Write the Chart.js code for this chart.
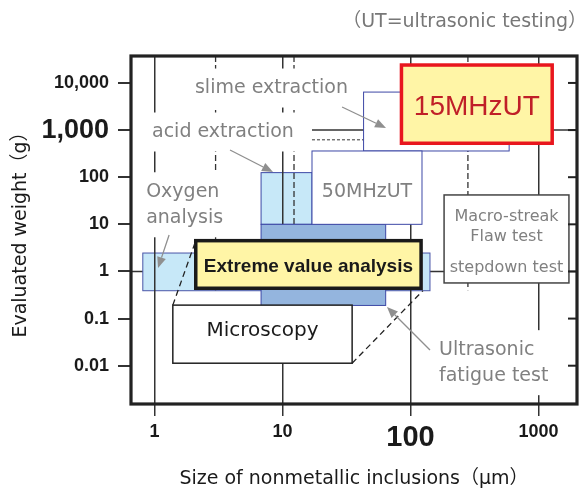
<!DOCTYPE html>
<html>
<head>
<meta charset="utf-8">
<script src="https://cdn.jsdelivr.net/npm/chart.js@4.4.1/dist/chart.umd.min.js"></script>
<style>
  html, body { margin: 0; padding: 0; background: #fff; }
</style>
</head>
<body>
<canvas id="methodchart" width="581" height="490"></canvas>
<script>
"use strict";

///////////////// AXES //////////////////////////////
const sizeTicks = [1, 10, 100, 1000];
const sizeTickLabels = ['1', '10', '100', '1000'];
const weightTicks = [0.01, 0.1, 1, 10, 100, 1000, 10000];
const weightTickLabels = ['0.01', '0.1', '1', '10', '100', '1,000', '10,000'];

///////////////// INSPECTION METHODS ////////////////
// inclusion size range (µm) and evaluated weight range (g) covered by each method
const methodNames = ['Oxygen analysis', 'acid extraction', 'Ultrasonic fatigue test',
                     'Extreme value analysis', 'Microscopy', '50MHzUT',
                     'slime extraction', '15MHzUT', 'Macro-streak Flaw test'];
const sizeFrom   = [0.81, 6.8, 6.8, 2.1, 1.39, 17, 43, 85, 183];
const sizeTo     = [142, 17, 64, 121, 35, 123, 590, 1280, 1730];
const weightFrom = [0.39, 10, 0.19, 0.44, 0.0113, 10, 360, 525, 0.57];
const weightTo   = [2.46, 125, 10, 4.5, 0.193, 360, 6400, 24000, 42];

// guide lines behind the boxes
const guideSizes = [3, 12.3, 281];        // dashed verticals, down to 0.4 g
const guideWeights = [1, 1000];           // solid horizontals
const guideWeightStart = [0.655, 17];     // µm where each one starts
const guideDashedWeight = [621];          // short dashed horizontal, 17-43 µm

///////////////// STYLES ////////////////////////////
const wide = '"DejaVu Sans", "Noto Sans CJK JP", sans-serif';
const arial = '"Liberation Sans", Arial, sans-serif';
const navy = '#3d48a6';
const grey = '#808080';
const ink = '#1a1a1a';

const boxStyles = {
  'Oxygen analysis':         {fill: '#c7e8f8', stroke: '#4a55a8', width: 1, under: true},
  'acid extraction':         {fill: '#c7e8f8', stroke: navy, width: 1, under: true},
  'Ultrasonic fatigue test': {fill: '#94b5de', stroke: navy, width: 1},
  'slime extraction':        {fill: '#ffffff', stroke: navy, width: 1},
  '50MHzUT':                 {fill: '#ffffff', stroke: navy, width: 1,
                              text: ['50MHzUT'], font: '19px ' + wide, color: grey, dy: [4]},
  '15MHzUT':                 {fill: '#fff5a6', stroke: '#e8161e', width: 3.5,
                              text: ['15MHzUT'], font: '28px ' + arial, color: '#c01f28', dy: [3]},
  'Extreme value analysis':  {fill: '#fff5a6', stroke: ink, width: 3.5,
                              text: ['Extreme value analysis'], font: 'bold 19px ' + arial, color: ink, dy: [2]},
  'Microscopy':              {fill: '#ffffff', stroke: '#222', width: 1.5,
                              text: ['Microscopy'], font: '20px ' + wide, color: ink, dy: [-3]},
  'Macro-streak Flaw test':  {fill: '#ffffff', stroke: '#444', width: 1.5,
                              text: ['Macro-streak', 'Flaw test', 'stepdown test'],
                              font: '16px ' + wide, color: grey, dy: [-22, -2, 29]},
};
const drawOrder = ['Ultrasonic fatigue test', 'slime extraction', '50MHzUT', '15MHzUT',
                   'Extreme value analysis', 'Microscopy', 'Macro-streak Flaw test'];

// free labels, anchored at their left edge / vertical middle (µm, g)
const notes = [
  {lines: ['slime extraction'], at: [2.07, 7800]},
  {lines: ['acid extraction'], at: [0.956, 910]},
  {lines: ['Oxygen', 'analysis'], at: [0.86, 26]},
  {lines: ['Ultrasonic', 'fatigue test'], at: [167, 0.0116]},
];
// grey arrows from the labels to their boxes
const pointers = [
  {from: [29.2, 3090], to: [64.4, 1107]},
  {from: [3.89, 378], to: [8.43, 129]},
  {from: [1.30, 5.93], to: [1.065, 1.18]},
  {from: [142, 0.0215], to: [65.5, 0.176]},
];
// dashed links from microscopy to the extreme value box
const links = [
  {from: [1.39, 0.193], to: [2.1, 4.5]},
  {from: [35, 0.0113], to: [125, 0.39]},
];

///////////////// DRAWING HELPERS ///////////////////
function toPx(chart, pt) {
  return [chart.scales.x.getPixelForValue(pt[0]), chart.scales.y.getPixelForValue(pt[1])];
}

function drawBox(chart, name) {
  const i = methodNames.indexOf(name);
  const st = boxStyles[name];
  const ctx = chart.ctx;
  const [l, t] = toPx(chart, [sizeFrom[i], weightTo[i]]);
  const [r, b] = toPx(chart, [sizeTo[i], weightFrom[i]]);
  ctx.save();
  ctx.fillStyle = st.fill;
  ctx.fillRect(l, t, r - l, b - t);
  ctx.lineWidth = st.width;
  ctx.strokeStyle = st.stroke;
  ctx.strokeRect(l, t, r - l, b - t);
  if (st.text) {
    ctx.font = st.font;
    ctx.fillStyle = st.color;
    ctx.textAlign = 'center';
    ctx.textBaseline = 'middle';
    st.text.forEach((line, k) => {
      ctx.fillText(line, (l + r) / 2, (t + b) / 2 + (st.dy[k] || 0));
    });
  }
  ctx.restore();
}

function drawArrow(ctx, p0, p1) {
  const ang = Math.atan2(p1[1] - p0[1], p1[0] - p0[0]);
  const len = 11, half = 4.5;
  const bx = p1[0] - len * Math.cos(ang), by = p1[1] - len * Math.sin(ang);
  ctx.beginPath();
  ctx.moveTo(p0[0], p0[1]);
  ctx.lineTo(bx, by);
  ctx.stroke();
  ctx.beginPath();
  ctx.moveTo(p1[0], p1[1]);
  ctx.lineTo(bx + half * Math.sin(ang), by - half * Math.cos(ang));
  ctx.lineTo(bx - half * Math.sin(ang), by + half * Math.cos(ang));
  ctx.closePath();
  ctx.fill();
}

const noteFont = '19px ' + wide;
const noteLineGap = 26;

const methodMap = {
  id: 'methodMap',
  // horizontal guides and the pale boxes sit under the vertical grid
  beforeDraw(chart) {
    const ctx = chart.ctx;
    const {left, right, top, bottom} = chart.chartArea;
    const {x, y} = chart.scales;
    ctx.save();
    ctx.beginPath();
    ctx.rect(left, top, right - left, bottom - top);
    ctx.clip();
    ctx.strokeStyle = '#333';
    ctx.lineWidth = 1.5;
    guideWeights.forEach((w, k) => {
      const py = y.getPixelForValue(w);
      ctx.beginPath();
      ctx.moveTo(x.getPixelForValue(guideWeightStart[k]), py);
      ctx.lineTo(right, py);
      ctx.stroke();
    });
    ctx.lineWidth = 1;
    ctx.setLineDash([3, 2]);
    guideDashedWeight.forEach(w => {
      const py = y.getPixelForValue(w);
      ctx.beginPath();
      ctx.moveTo(x.getPixelForValue(17), py);
      ctx.lineTo(x.getPixelForValue(43), py);
      ctx.stroke();
    });
    ctx.restore();
    methodNames.filter(n => boxStyles[n].under).forEach(n => drawBox(chart, n));
  },
  beforeDatasetsDraw(chart) {
    const ctx = chart.ctx;
    const {top} = chart.chartArea;
    const {x, y} = chart.scales;
    ctx.save();
    ctx.strokeStyle = '#333';
    ctx.lineWidth = 1.3;
    ctx.setLineDash([6, 3]);
    guideSizes.forEach(s => {
      const px = x.getPixelForValue(s);
      ctx.beginPath(); ctx.moveTo(px, top); ctx.lineTo(px, y.getPixelForValue(0.4)); ctx.stroke();
    });
    ctx.restore();
  },
  afterDatasetsDraw(chart) {
    const ctx = chart.ctx;
    // white backing behind the free labels
    ctx.save();
    ctx.font = noteFont;
    notes.forEach(n => {
      const [px, py] = toPx(chart, n.at);
      const w = Math.max(...n.lines.map(s => ctx.measureText(s).width));
      const h = (n.lines.length - 1) * noteLineGap + 19;
      ctx.fillStyle = '#fff';
      ctx.fillRect(px - 10, py - h / 2 - 10, w + 20, h + 20);
    });
    ctx.restore();

    drawOrder.forEach(n => drawBox(chart, n));

    ctx.save();
    ctx.strokeStyle = '#222';
    ctx.lineWidth = 1.3;
    ctx.setLineDash([6, 4]);
    links.forEach(k => {
      const a = toPx(chart, k.from), b = toPx(chart, k.to);
      ctx.beginPath(); ctx.moveTo(a[0], a[1]); ctx.lineTo(b[0], b[1]); ctx.stroke();
    });
    ctx.setLineDash([]);
    ctx.strokeStyle = '#8f8f8f';
    ctx.fillStyle = '#8f8f8f';
    ctx.lineWidth = 1.3;
    pointers.forEach(p => drawArrow(ctx, toPx(chart, p.from), toPx(chart, p.to)));

    ctx.font = noteFont;
    ctx.fillStyle = grey;
    ctx.textAlign = 'left';
    ctx.textBaseline = 'middle';
    notes.forEach(n => {
      const [px, py] = toPx(chart, n.at);
      const y0 = py - (n.lines.length - 1) * noteLineGap / 2;
      n.lines.forEach((s, k) => ctx.fillText(s, px, y0 + k * noteLineGap));
    });
    ctx.restore();
  },
  afterDraw(chart) {
    const ctx = chart.ctx;
    const {left, right, top, bottom} = chart.chartArea;
    const y = chart.scales.y;
    ctx.save();
    // ticks on the inside of the right frame
    ctx.strokeStyle = '#222';
    ctx.lineWidth = 2;
    weightTicks.forEach(w => {
      const py = y.getPixelForValue(w);
      ctx.beginPath(); ctx.moveTo(right - 9, py); ctx.lineTo(right, py); ctx.stroke();
    });
    ctx.lineWidth = 3.2;
    ctx.strokeRect(left, top, right - left, bottom - top);

    ctx.font = '19px ' + wide;
    ctx.fillStyle = '#777';
    ctx.textAlign = 'right';
    ctx.textBaseline = 'middle';
    ctx.fillText('（UT=ultrasonic testing）', 587, 22);
    ctx.restore();
  }
};

///////////////// CHART //////////////////////////////
new Chart(document.querySelector('#methodchart'), {
  type: 'scatter',
  data: { datasets: [] },
  plugins: [methodMap],
  options: {
    responsive: false,
    animation: false,
    devicePixelRatio: 1,
    layout: { padding: { top: 56, right: 4, left: 0, bottom: 0 } },
    plugins: { legend: { display: false }, tooltip: { enabled: false } },
    scales: {
      x: {
        type: 'logarithmic',
        min: 0.655,
        max: 2000,
        afterBuildTicks: axis => { axis.ticks = sizeTicks.map(v => ({ value: v })); },
        afterFit: axis => { axis.height = 86; },
        border: { display: false },
        grid: { color: '#333', lineWidth: 1.5, tickLength: 12 },
        ticks: {
          autoSkip: false,
          maxRotation: 0,
          padding: 5,
          color: ink,
          callback: (v, i) => sizeTickLabels[i],
          font: ctx => ({ family: arial, weight: 'bold',
                          size: ctx.tick && ctx.tick.value === 100 ? 29 : 18 })
        },
        title: {
          display: true,
          text: 'Size of nonmetallic inclusions（μm）',
          color: ink,
          font: { family: wide, size: 19 },
          padding: { top: 4, bottom: 0 }
        }
      },
      y: {
        type: 'logarithmic',
        min: 0.00154,
        max: 37300,
        afterBuildTicks: axis => { axis.ticks = weightTicks.map(v => ({ value: v })); },
        afterFit: axis => { axis.width = 131; },
        border: { display: false },
        grid: { drawOnChartArea: false, color: '#333', lineWidth: 2, tickLength: 13 },
        ticks: {
          autoSkip: false,
          padding: 9,
          color: ink,
          callback: (v, i) => weightTickLabels[i],
          font: ctx => ({ family: arial, weight: 'bold',
                          size: ctx.tick && ctx.tick.value === 1000 ? 27 : 18 })
        },
        title: {
          display: true,
          text: 'Evaluated weight（g）',
          color: ink,
          font: { family: wide, size: 19 },
          padding: { top: 10, bottom: 0 }
        }
      }
    }
  }
});
</script>
</body>
</html>
